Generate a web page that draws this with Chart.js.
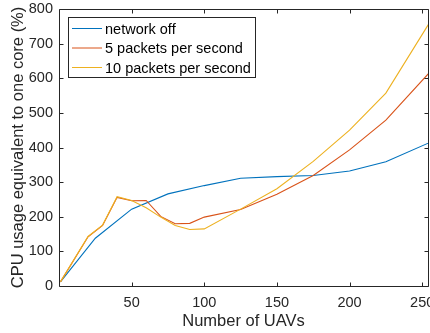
<!DOCTYPE html>
<html>
<head>
<meta charset="utf-8">
<script src="https://cdn.jsdelivr.net/npm/chart.js@4/dist/chart.umd.min.js"></script>
<style>
  html, body { margin: 0; padding: 0; background: #fff; }
  #wrap { width: 430px; height: 333px; position: relative; }
</style>
</head>
<body>
<div id="wrap"><canvas id="c" width="430" height="333"></canvas></div>
<script>
// ---- data ----
const seriesLabels = ["network off", "5 packets per second", "10 packets per second"];
const xOff = [1, 25, 50, 75, 100, 125, 150, 175, 200, 225, 256];
const yOff = [12, 138, 222, 266, 290, 311, 316, 319, 332, 359, 416];
const x5 = [1, 20, 30, 40, 50, 60, 70, 80, 90, 100, 125, 150, 175, 200, 225, 256];
const y5 = [12, 142, 175, 256, 246, 247, 201, 180, 181, 199, 221, 265, 319, 393, 479, 621];
const x10 = [1, 20, 30, 40, 50, 60, 70, 80, 90, 100, 125, 150, 175, 200, 225, 256];
const y10 = [12, 143, 176, 258, 247, 226, 199, 175, 163, 165, 222, 281, 360, 450, 557, 767];
const xTicks = [50, 100, 150, 200, 250];
const yTicks = [0, 100, 200, 300, 400, 500, 600, 700, 800];
const xTitle = "Number of UAVs";
const yTitle = "CPU usage equivalent to one core (%)";
const colors = ["#0072BD", "#D95319", "#EDB120"];

const FONT = "'Liberation Sans', Arial, Helvetica, sans-serif";
const AXIS = "#262626";

function pts(xs, ys) { return xs.map((x, i) => ({ x: x, y: ys[i] })); }

const boxPlugin = {
  id: 'matlabBox',
  afterDatasetsDraw(chart) {
    const { ctx, chartArea: a, scales } = chart;
    const L = a.left + 0.5, R = a.right + 0.5, T = a.top + 0.5, B = a.bottom + 0.5;
    ctx.save();
    ctx.strokeStyle = AXIS;
    ctx.lineWidth = 1;
    ctx.beginPath();
    ctx.rect(L, T, R - L, B - T);
    const tl = 4;
    xTicks.forEach(v => {
      const px = Math.round(scales.x.getPixelForValue(v)) + 0.5;
      ctx.moveTo(px, B); ctx.lineTo(px, B - tl);
      ctx.moveTo(px, T); ctx.lineTo(px, T + tl);
    });
    yTicks.forEach(v => {
      const py = Math.round(scales.y.getPixelForValue(v)) + 0.5;
      ctx.moveTo(L, py); ctx.lineTo(L + tl, py);
      ctx.moveTo(R, py); ctx.lineTo(R - tl, py);
    });
    ctx.stroke();

    // legend
    const lx = a.left + 9.5, ly = a.top + 8.5, lw = 187, lh = 60;
    ctx.fillStyle = "#fff";
    ctx.fillRect(lx, ly, lw, lh);
    ctx.strokeStyle = AXIS;
    ctx.strokeRect(lx, ly, lw, lh);
    ctx.font = "14.5px " + FONT;
    ctx.textBaseline = "middle";
    ctx.textAlign = "left";
    chart.data.datasets.forEach((ds, i) => {
      const yy = ly + 11 + i * 19.5;
      ctx.strokeStyle = ds.borderColor;
      ctx.lineWidth = 1;
      ctx.beginPath();
      ctx.moveTo(lx + 3.5, yy); ctx.lineTo(lx + 33.5, yy);
      ctx.stroke();
      ctx.fillStyle = "#000";
      ctx.fillText(ds.label, lx + 36.5, yy + 1);
    });
    ctx.restore();
  }
};

new Chart(document.getElementById('c'), {
  type: 'line',
  data: {
    datasets: [
      { label: seriesLabels[0], data: pts(xOff, yOff), borderColor: colors[0], order: 2 },
      { label: seriesLabels[1], data: pts(x5, y5), borderColor: colors[1], order: 1 },
      { label: seriesLabels[2], data: pts(x10, y10), borderColor: colors[2], order: 0 }
    ]
  },
  options: {
    responsive: false,
    animation: false,
    devicePixelRatio: 1,
    layout: { padding: { left: 0, right: 2, top: 9, bottom: 0 } },
    elements: {
      line: { borderWidth: 1.1, tension: 0, fill: false },
      point: { radius: 0, hoverRadius: 0 }
    },
    plugins: { legend: { display: false }, tooltip: { enabled: false } },
    scales: {
      x: {
        type: 'linear',
        min: 0, max: 254,
        afterBuildTicks: s => { s.ticks = xTicks.map(v => ({ value: v })); },
        afterFit: s => { s.height = 47; s.paddingLeft = 0; s.paddingRight = 0; },
        grid: { display: false, drawTicks: false },
        border: { display: false },
        ticks: { color: AXIS, font: { family: FONT, size: 14.5 }, padding: 8, maxRotation: 0, autoSkip: false },
        title: { display: true, text: xTitle, color: AXIS, font: { family: FONT, size: 16.5 }, padding: { top: 0, bottom: 2 } }
      },
      y: {
        min: 0, max: 800,
        afterBuildTicks: s => { s.ticks = yTicks.map(v => ({ value: v })); },
        afterFit: s => { s.width = 59; s.paddingTop = 0; s.paddingBottom = 0; },
        grid: { display: false, drawTicks: false },
        border: { display: false },
        ticks: { color: AXIS, font: { family: FONT, size: 14.5 }, padding: 6 },
        title: { display: true, text: yTitle, color: AXIS, font: { family: FONT, size: 16.5 }, padding: { top: 9, bottom: 0 } }
      }
    }
  },
  plugins: [boxPlugin]
});
</script>
</body>
</html>
